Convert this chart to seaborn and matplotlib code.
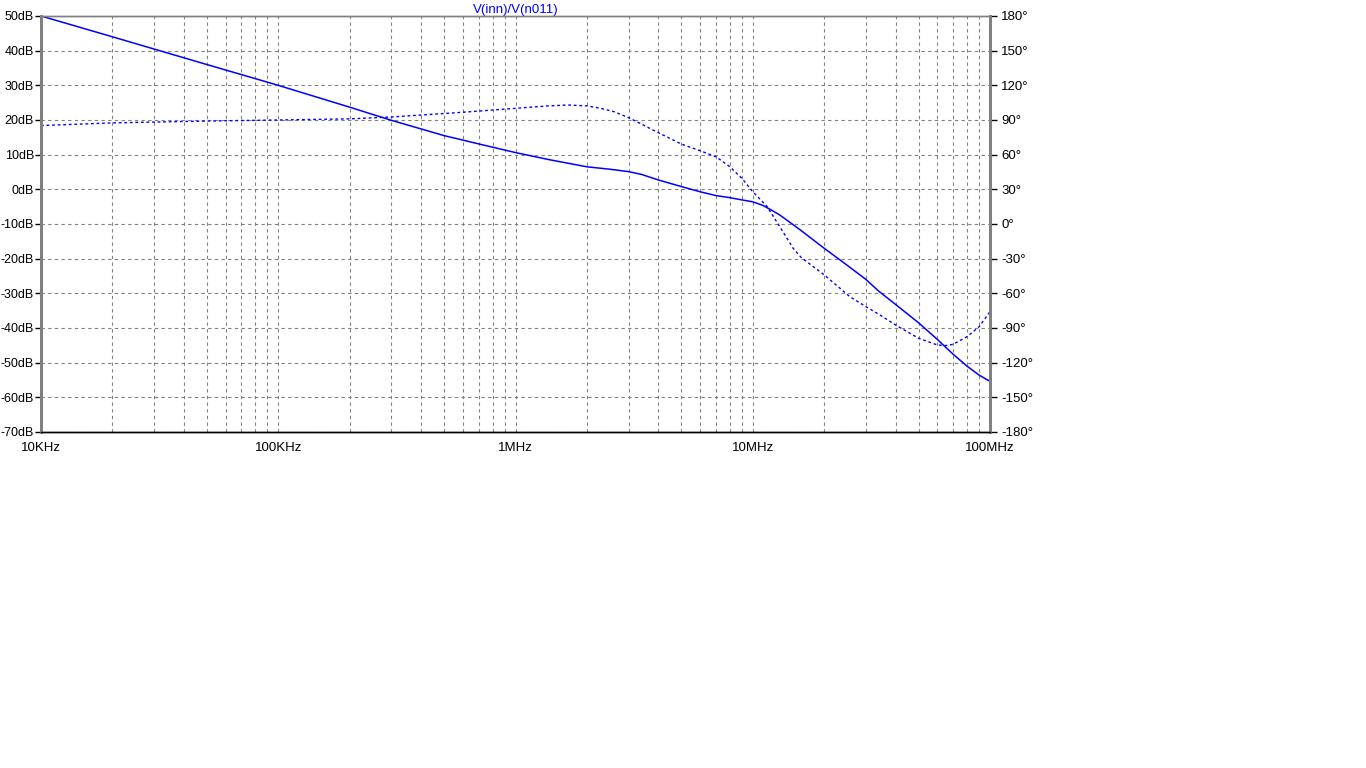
import numpy as np
import pandas as pd
import seaborn as sns
import matplotlib
matplotlib.use("Agg")
from matplotlib import pyplot as plt
from matplotlib.ticker import FixedLocator, NullFormatter

# 数据：幅频 / 相频
freq_mag = [1e4, 2e4, 5e4, 1e5, 2e5, 3e5, 5e5, 7e5, 1e6, 1.4e6, 2e6, 2.5e6, 3e6, 3.4e6,
            4e6, 5e6, 6e6, 7e6, 8e6, 9e6, 1e7, 1.1e7, 1.2e7, 1.3e7, 1.6e7, 2e7, 2.5e7,
            3e7, 3.4e7, 4e7, 5e7, 6e7, 7e7, 8e7, 9e7, 1e8]
mag_db = [50, 44, 36, 30, 23.7, 19.9, 15.5, 13.1, 10.6, 8.5, 6.5, 5.8, 5.1, 4.3,
          2.7, 0.8, -0.7, -1.8, -2.4, -3.05, -3.6, -4.6, -6.0, -7.4, -11.9, -17, -21.9,
          -26, -29.4, -33.2, -38.5, -43.3, -47.6, -51, -53.6, -55.4]

freq_ph = [1e4, 2e4, 5e4, 1e5, 2e5, 3e5, 4e5, 6e5, 1e6, 1.35e6, 1.66e6, 2e6, 2.3e6,
           2.6e6, 3e6, 3.35e6, 3.8e6, 5e6, 6e6, 7e6, 8e6, 9e6, 1e7, 1.15e7, 1.3e7,
           1.48e7, 1.6e7, 2e7, 2.57e7, 3e7, 3.44e7, 4e7, 5e7, 6e7, 6.5e7, 7e7, 8e7,
           9e7, 1e8]
phase_deg = [85.2, 87.5, 89.1, 90, 91, 92.6, 94.3, 96.7, 100.1, 102.1, 103, 102.2, 100,
             97.2, 92, 87.1, 81.3, 69.2, 63.4, 58.2, 49.6, 39.5, 28, 15, -2.3,
             -21, -29, -44, -63, -71.5, -78.8, -87.4, -98.9, -104.7, -105.2, -104.1, -97.5,
             -88.9, -75.9]

x_ticks = [1e4, 1e5, 1e6, 1e7, 1e8]
x_labels = ["10KHz", "100KHz", "1MHz", "10MHz", "100MHz"]
db_ticks = list(range(-70, 51, 10))
db_labels = [f"{v}dB" for v in db_ticks]
ph_ticks = list(range(-180, 181, 30))
ph_labels = [f"{v}°" for v in ph_ticks]
title = "V(inn)/V(n011)"

sns.set_style("white")
plt.rcParams['font.family'] = ['Liberation Sans', 'DejaVu Sans']

fig = plt.figure(figsize=(13.66, 7.68), dpi=100)
ax = fig.add_axes([41/1366, 1-432/768, (990-41)/1366, (432-16)/768])
ax2 = ax.twinx()

df_mag = pd.DataFrame({'f': freq_mag, 'db': mag_db})
df_ph = pd.DataFrame({'f': freq_ph, 'ph': phase_deg})

sns.lineplot(data=df_mag, x='f', y='db', ax=ax, color='#0000ff', linewidth=1.1)
sns.lineplot(data=df_ph, x='f', y='ph', ax=ax2, color='#0000ff', linewidth=1.0,
             linestyle=(0, (2, 2)))

ax.set_xscale('log')
ax.set_xlim(1e4, 1e8)
ax.set_ylim(-70, 50)
ax2.set_ylim(-180, 180)

grid_kw = dict(color='#808080', linestyle=(0, (3, 3)), linewidth=0.8)
ax.xaxis.set_major_locator(FixedLocator(x_ticks))
ax.set_xticklabels(x_labels)
minor = [m * d for d in [1e4, 1e5, 1e6, 1e7] for m in range(2, 10)]
ax.xaxis.set_minor_locator(FixedLocator(minor))
ax.xaxis.set_minor_formatter(NullFormatter())
ax.grid(True, which='both', axis='x', **grid_kw)
ax.set_yticks(db_ticks)
ax.set_yticklabels(db_labels)
ax.grid(True, which='major', axis='y', **grid_kw)
ax2.set_yticks(ph_ticks)
ax2.set_yticklabels(ph_labels)

ax.set_xlabel('')
ax.set_ylabel('')
ax2.set_ylabel('')

ax.tick_params(axis='y', direction='out', length=4, width=1, color='black',
               labelsize=9, pad=1, labelcolor='black')
ax.tick_params(axis='x', which='major', direction='out', length=0, labelsize=9.5,
               pad=7, labelcolor='black')
ax.tick_params(axis='x', which='minor', length=0)
ax2.tick_params(axis='y', direction='out', length=5, width=1, color='black',
                labelsize=9.5, pad=3, labelcolor='black')

for a in (ax, ax2):
    a.spines['left'].set_color('#808080')
    a.spines['left'].set_linewidth(2)
    a.spines['right'].set_color('#808080')
    a.spines['right'].set_linewidth(2)
    a.spines['top'].set_color('#808080')
    a.spines['top'].set_linewidth(1)
    a.spines['bottom'].set_color('black')
    a.spines['bottom'].set_linewidth(1)

ax.set_title(title, color='#0000ff', fontsize=9.5, pad=2)

fig.savefig('out.png', dpi=100)
